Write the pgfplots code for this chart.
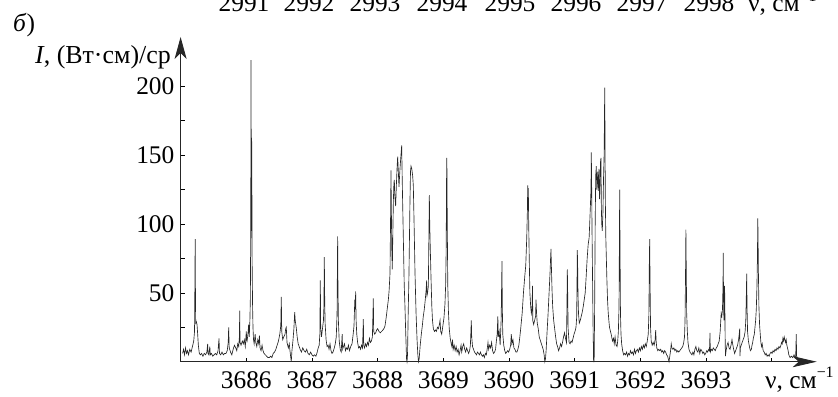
\documentclass[border=0pt]{standalone}
\usepackage{pgfplots}
\pgfplotsset{compat=1.18}
\usetikzlibrary{arrows.meta}
\usepackage{fontspec}
\setmainfont{Liberation Serif}
\newcommand{\lbl}{\fontsize{25.5}{30}\selectfont}
\newcommand{\ylbl}{\fontsize{26}{30}\selectfont}
\begin{document}
\begin{tikzpicture}[x=1bp,y=1bp]
\useasboundingbox (0,0) rectangle (838,396);
\begin{axis}[
  at={(180.6bp,34.3bp)}, anchor=south west,
  scale only axis, width=636.1bp, height=324.7bp,
  xmin=3685, xmax=3694.685, ymin=0, ymax=235.8,
  axis lines=left, clip=false,
  axis line style={line width=0.9pt, black!85},
  x axis line style={-{Stealth[length=24bp,width=11bp,inset=6bp]}},
  y axis line style={-{Stealth[length=22bp,width=12bp,inset=6bp]}},
  xtick={3686,3687,...,3694},
  xticklabels={3686,3687,3688,3689,3690,3691,3692,3693,{}},
  ytick={50,100,150,200}, minor ytick={25,75,125,175},
  tick align=inside, major tick length=4bp, minor tick length=4bp,
  tick style={black, line width=0.6pt},
  /pgf/number format/assume math mode=true,
  ticklabel style={font=\lbl, inner sep=0pt},
  xticklabel style={yshift=-10bp},
  yticklabel style={xshift=-6bp},
  scaled ticks=false,
]
\addplot[black!85, line width=0.65bp, mark=none] coordinates {
(3685.030,6) (3685.045,9) (3685.060,5) (3685.075,10) (3685.090,6) (3685.105,8)
(3685.120,5) (3685.140,9) (3685.160,7) (3685.180,11) (3685.200,15) (3685.212,22)
(3685.218,60) (3685.222,89) (3685.226,50) (3685.230,28) (3685.240,29) (3685.250,27)
(3685.260,20) (3685.270,12) (3685.285,6) (3685.300,5) (3685.320,6) (3685.340,4)
(3685.360,6) (3685.380,5) (3685.400,7) (3685.412,13) (3685.418,6) (3685.430,5)
(3685.445,11) (3685.452,5) (3685.470,6) (3685.490,4) (3685.510,5) (3685.530,6)
(3685.550,5) (3685.570,8) (3685.585,17) (3685.592,6) (3685.610,5) (3685.630,7)
(3685.650,5) (3685.670,6) (3685.690,6) (3685.710,8) (3685.725,14) (3685.732,25)
(3685.740,10) (3685.760,7) (3685.780,5) (3685.800,9) (3685.820,12) (3685.840,10)
(3685.855,8) (3685.870,13) (3685.885,11) (3685.895,18) (3685.900,37) (3685.905,14)
(3685.920,12) (3685.940,15) (3685.955,13) (3685.970,16) (3685.985,11) (3686.000,22)
(3686.010,14) (3686.025,20) (3686.036,27) (3686.045,18) (3686.055,30) (3686.062,46)
(3686.068,100) (3686.072,219) (3686.075,150) (3686.078,169) (3686.081,95) (3686.084,160)
(3686.088,77) (3686.096,40) (3686.102,25) (3686.110,16) (3686.120,13) (3686.135,20)
(3686.145,14) (3686.160,11) (3686.175,16) (3686.190,13) (3686.200,19) (3686.210,10)
(3686.225,8) (3686.240,12) (3686.255,8) (3686.270,6) (3686.290,5) (3686.310,4)
(3686.330,3) (3686.350,3) (3686.370,4) (3686.390,3) (3686.410,6) (3686.430,7)
(3686.450,9) (3686.470,12) (3686.490,15) (3686.510,20) (3686.525,26) (3686.533,47)
(3686.540,22) (3686.555,16) (3686.570,18) (3686.590,20) (3686.600,24) (3686.609,25)
(3686.620,14) (3686.640,10) (3686.655,13) (3686.665,8) (3686.675,4) (3686.685,0)
(3686.695,8) (3686.710,15) (3686.725,24) (3686.737,36) (3686.745,30) (3686.760,25)
(3686.775,18) (3686.790,13) (3686.805,11) (3686.820,9) (3686.840,7) (3686.860,10)
(3686.880,8) (3686.900,7) (3686.920,9) (3686.940,6) (3686.960,5) (3686.980,7)
(3687.000,5) (3687.020,4) (3687.040,5) (3687.060,4) (3687.080,7) (3687.095,10)
(3687.110,12) (3687.120,20) (3687.127,59) (3687.133,25) (3687.145,18) (3687.160,24)
(3687.175,30) (3687.182,40) (3687.188,76) (3687.194,45) (3687.200,28) (3687.215,16)
(3687.230,11) (3687.245,12) (3687.260,9) (3687.275,13) (3687.290,8) (3687.305,6)
(3687.320,7) (3687.340,10) (3687.355,13) (3687.370,18) (3687.382,35) (3687.388,72)
(3687.391,91) (3687.395,60) (3687.402,30) (3687.415,15) (3687.430,9) (3687.445,7)
(3687.460,20) (3687.467,9) (3687.480,11) (3687.495,13) (3687.510,8) (3687.525,10)
(3687.540,9) (3687.555,12) (3687.570,8) (3687.590,11) (3687.610,13) (3687.625,19)
(3687.640,26) (3687.652,45) (3687.660,38) (3687.665,51) (3687.672,30) (3687.682,20)
(3687.695,14) (3687.710,10) (3687.725,11) (3687.740,9) (3687.755,12) (3687.770,10)
(3687.782,31) (3687.788,12) (3687.800,10) (3687.815,13) (3687.830,11) (3687.845,14)
(3687.860,12) (3687.875,17) (3687.890,14) (3687.905,15) (3687.920,18) (3687.934,46)
(3687.940,22) (3687.955,20) (3687.970,21) (3687.985,23) (3688.000,24) (3688.020,22)
(3688.040,21) (3688.060,22) (3688.080,23) (3688.095,24) (3688.112,26) (3688.130,32)
(3688.150,40) (3688.163,45) (3688.175,52) (3688.188,64) (3688.196,100) (3688.203,139)
(3688.210,105) (3688.216,80) (3688.223,67) (3688.232,95) (3688.240,118) (3688.248,130)
(3688.254,132) (3688.262,120) (3688.274,113) (3688.285,128) (3688.295,140) (3688.305,149)
(3688.315,138) (3688.325,127) (3688.340,140) (3688.355,150) (3688.366,157) (3688.375,130)
(3688.385,105) (3688.395,80) (3688.405,55) (3688.416,40) (3688.428,20) (3688.440,2)
(3688.447,0) (3688.455,5) (3688.465,35) (3688.477,64) (3688.490,110) (3688.500,138)
(3688.508,142) (3688.520,140) (3688.533,135) (3688.543,128) (3688.555,100) (3688.569,64)
(3688.585,35) (3688.600,16) (3688.612,5) (3688.622,0) (3688.632,2) (3688.648,12)
(3688.665,20) (3688.680,26) (3688.695,33) (3688.710,38) (3688.725,45) (3688.738,52)
(3688.746,59) (3688.752,48) (3688.760,50) (3688.772,55) (3688.780,90) (3688.787,121)
(3688.793,100) (3688.800,85) (3688.813,60) (3688.825,40) (3688.835,30) (3688.848,24)
(3688.865,22) (3688.880,23) (3688.895,22) (3688.910,25) (3688.925,24) (3688.940,27)
(3688.950,30) (3688.960,22) (3688.975,20) (3688.990,25) (3689.010,32) (3689.025,42)
(3689.035,55) (3689.043,80) (3689.048,120) (3689.051,148) (3689.055,140) (3689.060,100)
(3689.068,55) (3689.078,36) (3689.090,24) (3689.105,17) (3689.120,13) (3689.130,11)
(3689.140,16) (3689.150,9) (3689.165,12) (3689.180,8) (3689.195,11) (3689.210,7)
(3689.225,9) (3689.240,5) (3689.255,8) (3689.270,12) (3689.280,7) (3689.295,11)
(3689.310,13) (3689.325,9) (3689.340,7) (3689.355,10) (3689.370,8) (3689.385,6)
(3689.400,8) (3689.412,12) (3689.420,22) (3689.426,30) (3689.432,18) (3689.445,11)
(3689.460,9) (3689.475,7) (3689.490,6) (3689.505,5) (3689.520,7) (3689.535,6)
(3689.550,5) (3689.565,7) (3689.580,5) (3689.595,4) (3689.610,5) (3689.625,3)
(3689.640,6) (3689.655,5) (3689.670,10) (3689.680,14) (3689.690,9) (3689.705,12)
(3689.720,10) (3689.735,14) (3689.750,8) (3689.765,6) (3689.780,7) (3689.795,9)
(3689.810,16) (3689.820,20) (3689.830,33) (3689.837,18) (3689.850,22) (3689.865,12)
(3689.880,30) (3689.893,73) (3689.898,40) (3689.905,20) (3689.920,12) (3689.935,8)
(3689.950,6) (3689.965,7) (3689.980,8) (3689.995,7) (3690.010,9) (3690.025,12)
(3690.035,20) (3690.045,13) (3690.060,16) (3690.075,10) (3690.090,9) (3690.105,7)
(3690.120,7) (3690.135,9) (3690.150,12) (3690.165,18) (3690.180,25) (3690.200,35)
(3690.220,50) (3690.240,62) (3690.255,70) (3690.270,90) (3690.280,110) (3690.285,128)
(3690.290,110) (3690.294,126) (3690.300,100) (3690.308,75) (3690.318,50) (3690.330,40)
(3690.340,35) (3690.350,38) (3690.358,55) (3690.362,30) (3690.375,27) (3690.390,30)
(3690.405,33) (3690.411,45) (3690.420,35) (3690.430,28) (3690.445,24) (3690.460,18)
(3690.480,15) (3690.500,12) (3690.520,9) (3690.535,5) (3690.545,0) (3690.555,2)
(3690.565,8) (3690.580,22) (3690.595,35) (3690.610,50) (3690.625,65) (3690.633,75)
(3690.639,82) (3690.645,70) (3690.655,52) (3690.665,40) (3690.680,30) (3690.695,24)
(3690.710,18) (3690.725,13) (3690.740,11) (3690.755,8) (3690.770,10) (3690.785,13)
(3690.800,11) (3690.815,14) (3690.830,18) (3690.845,21) (3690.860,17) (3690.875,14)
(3690.882,40) (3690.888,67) (3690.894,48) (3690.900,24) (3690.915,14) (3690.930,13)
(3690.945,15) (3690.960,14) (3690.975,17) (3690.990,20) (3691.005,22) (3691.020,25)
(3691.030,32) (3691.036,60) (3691.040,81) (3691.045,70) (3691.050,50) (3691.058,35)
(3691.070,28) (3691.085,30) (3691.100,33) (3691.115,36) (3691.130,40) (3691.145,45)
(3691.160,50) (3691.175,62) (3691.190,75) (3691.205,85) (3691.220,90) (3691.235,108)
(3691.248,125) (3691.253,152) (3691.258,130) (3691.264,95) (3691.272,60) (3691.280,25)
(3691.288,0) (3691.296,0) (3691.304,40) (3691.312,100) (3691.320,135) (3691.329,142)
(3691.336,125) (3691.344,130) (3691.352,138) (3691.360,124) (3691.370,140) (3691.378,118)
(3691.386,130) (3691.393,145) (3691.400,148) (3691.406,112) (3691.412,100) (3691.420,95)
(3691.430,108) (3691.440,135) (3691.448,150) (3691.453,175) (3691.457,199) (3691.461,170)
(3691.466,120) (3691.474,90) (3691.482,75) (3691.490,60) (3691.500,45) (3691.510,36)
(3691.520,30) (3691.530,25) (3691.545,22) (3691.560,19) (3691.575,15) (3691.590,17)
(3691.602,13) (3691.615,18) (3691.630,12) (3691.645,11) (3691.655,15) (3691.665,22)
(3691.675,40) (3691.680,80) (3691.685,125) (3691.690,85) (3691.697,35) (3691.705,20)
(3691.715,13) (3691.730,8) (3691.745,5) (3691.760,6) (3691.775,5) (3691.790,7)
(3691.805,4) (3691.820,6) (3691.835,5) (3691.850,8) (3691.865,6) (3691.880,7)
(3691.895,5) (3691.910,9) (3691.925,6) (3691.940,8) (3691.955,9) (3691.970,7)
(3691.985,10) (3692.000,8) (3692.015,11) (3692.030,9) (3692.045,12) (3692.060,10)
(3692.075,13) (3692.090,11) (3692.105,15) (3692.120,20) (3692.130,35) (3692.137,75)
(3692.142,89) (3692.148,55) (3692.155,25) (3692.165,15) (3692.180,12) (3692.195,14)
(3692.210,12) (3692.225,16) (3692.233,23) (3692.240,15) (3692.250,10) (3692.265,8)
(3692.280,9) (3692.295,8) (3692.310,9) (3692.325,7) (3692.340,8) (3692.355,6)
(3692.370,8) (3692.385,7) (3692.400,5) (3692.415,4) (3692.425,2) (3692.436,0)
(3692.445,3) (3692.460,8) (3692.470,13) (3692.480,10) (3692.495,9) (3692.510,10)
(3692.525,8) (3692.540,9) (3692.555,7) (3692.570,8) (3692.585,7) (3692.600,8)
(3692.615,9) (3692.630,10) (3692.645,11) (3692.660,14) (3692.672,18) (3692.680,30)
(3692.687,60) (3692.693,96) (3692.698,70) (3692.705,35) (3692.715,22) (3692.725,14)
(3692.740,9) (3692.755,7) (3692.770,6) (3692.785,5) (3692.800,7) (3692.815,5)
(3692.830,9) (3692.845,11) (3692.860,8) (3692.875,7) (3692.890,10) (3692.905,6)
(3692.920,9) (3692.935,8) (3692.950,6) (3692.965,7) (3692.980,5) (3692.995,6)
(3693.010,8) (3693.025,7) (3693.040,9) (3693.052,8) (3693.060,21) (3693.065,7)
(3693.080,9) (3693.095,8) (3693.110,10) (3693.125,9) (3693.140,8) (3693.155,10)
(3693.170,11) (3693.185,13) (3693.200,15) (3693.215,22) (3693.230,35) (3693.240,33)
(3693.250,38) (3693.258,55) (3693.262,79) (3693.266,45) (3693.272,30) (3693.280,55)
(3693.285,48) (3693.290,20) (3693.295,4) (3693.305,8) (3693.320,12) (3693.335,14)
(3693.350,10) (3693.365,9) (3693.380,12) (3693.395,16) (3693.405,13) (3693.420,9)
(3693.435,6) (3693.450,8) (3693.465,10) (3693.480,12) (3693.495,16) (3693.505,20)
(3693.512,24) (3693.517,4) (3693.522,10) (3693.535,12) (3693.550,14) (3693.565,16)
(3693.580,18) (3693.595,22) (3693.605,30) (3693.612,45) (3693.619,64) (3693.624,40)
(3693.632,22) (3693.645,15) (3693.660,11) (3693.675,8) (3693.690,9) (3693.700,12)
(3693.710,14) (3693.720,17) (3693.735,20) (3693.745,25) (3693.755,30) (3693.765,38)
(3693.775,55) (3693.782,75) (3693.788,104) (3693.792,90) (3693.797,65) (3693.805,40)
(3693.815,27) (3693.825,20) (3693.835,14) (3693.845,11) (3693.855,13) (3693.870,8)
(3693.885,7) (3693.900,5) (3693.915,6) (3693.930,4) (3693.945,5) (3693.960,4)
(3693.975,6) (3693.990,7) (3694.005,6) (3694.020,8) (3694.035,7) (3694.050,9)
(3694.065,8) (3694.080,10) (3694.095,9) (3694.110,11) (3694.125,10) (3694.140,12)
(3694.150,14) (3694.160,13) (3694.170,17) (3694.180,15) (3694.190,18) (3694.200,16)
(3694.210,14) (3694.220,16) (3694.230,12) (3694.240,10) (3694.250,8) (3694.260,5)
(3694.270,4) (3694.280,3) (3694.300,4) (3694.320,3) (3694.340,5) (3694.355,3)
(3694.365,4) (3694.370,14) (3694.374,20) (3694.378,4) (3694.390,3)
};
\end{axis}
% axis titles and panel letter
\node[anchor=base west, inner sep=0pt, font=\lbl] at (13,364.3) {\textit{б})};
\node[anchor=base east, inner sep=0pt, font=\ylbl] at (171,332.7) {\textit{I}, (Вт·см)/ср};
\node[anchor=base west, inner sep=0pt, font=\lbl] at (765,7.5)
  {ν, см\raisebox{0.42em}{\fontsize{16}{18}\selectfont −1}};
% frequency scale of the upper panel, cut by the page edge
\foreach \xx/\tt in {244/2991,309/2992,375/2993,442/2994,510/2995,576/2996,642/2997,709/2998}
  \node[anchor=base, inner sep=0pt, font=\lbl] at (\xx,384.3) {\tt};
\node[anchor=base west, inner sep=0pt, font=\lbl] at (748,384.3)
  {ν, см\raisebox{0.42em}{\fontsize{16}{18}\selectfont −1}};
\end{tikzpicture}
\end{document}
